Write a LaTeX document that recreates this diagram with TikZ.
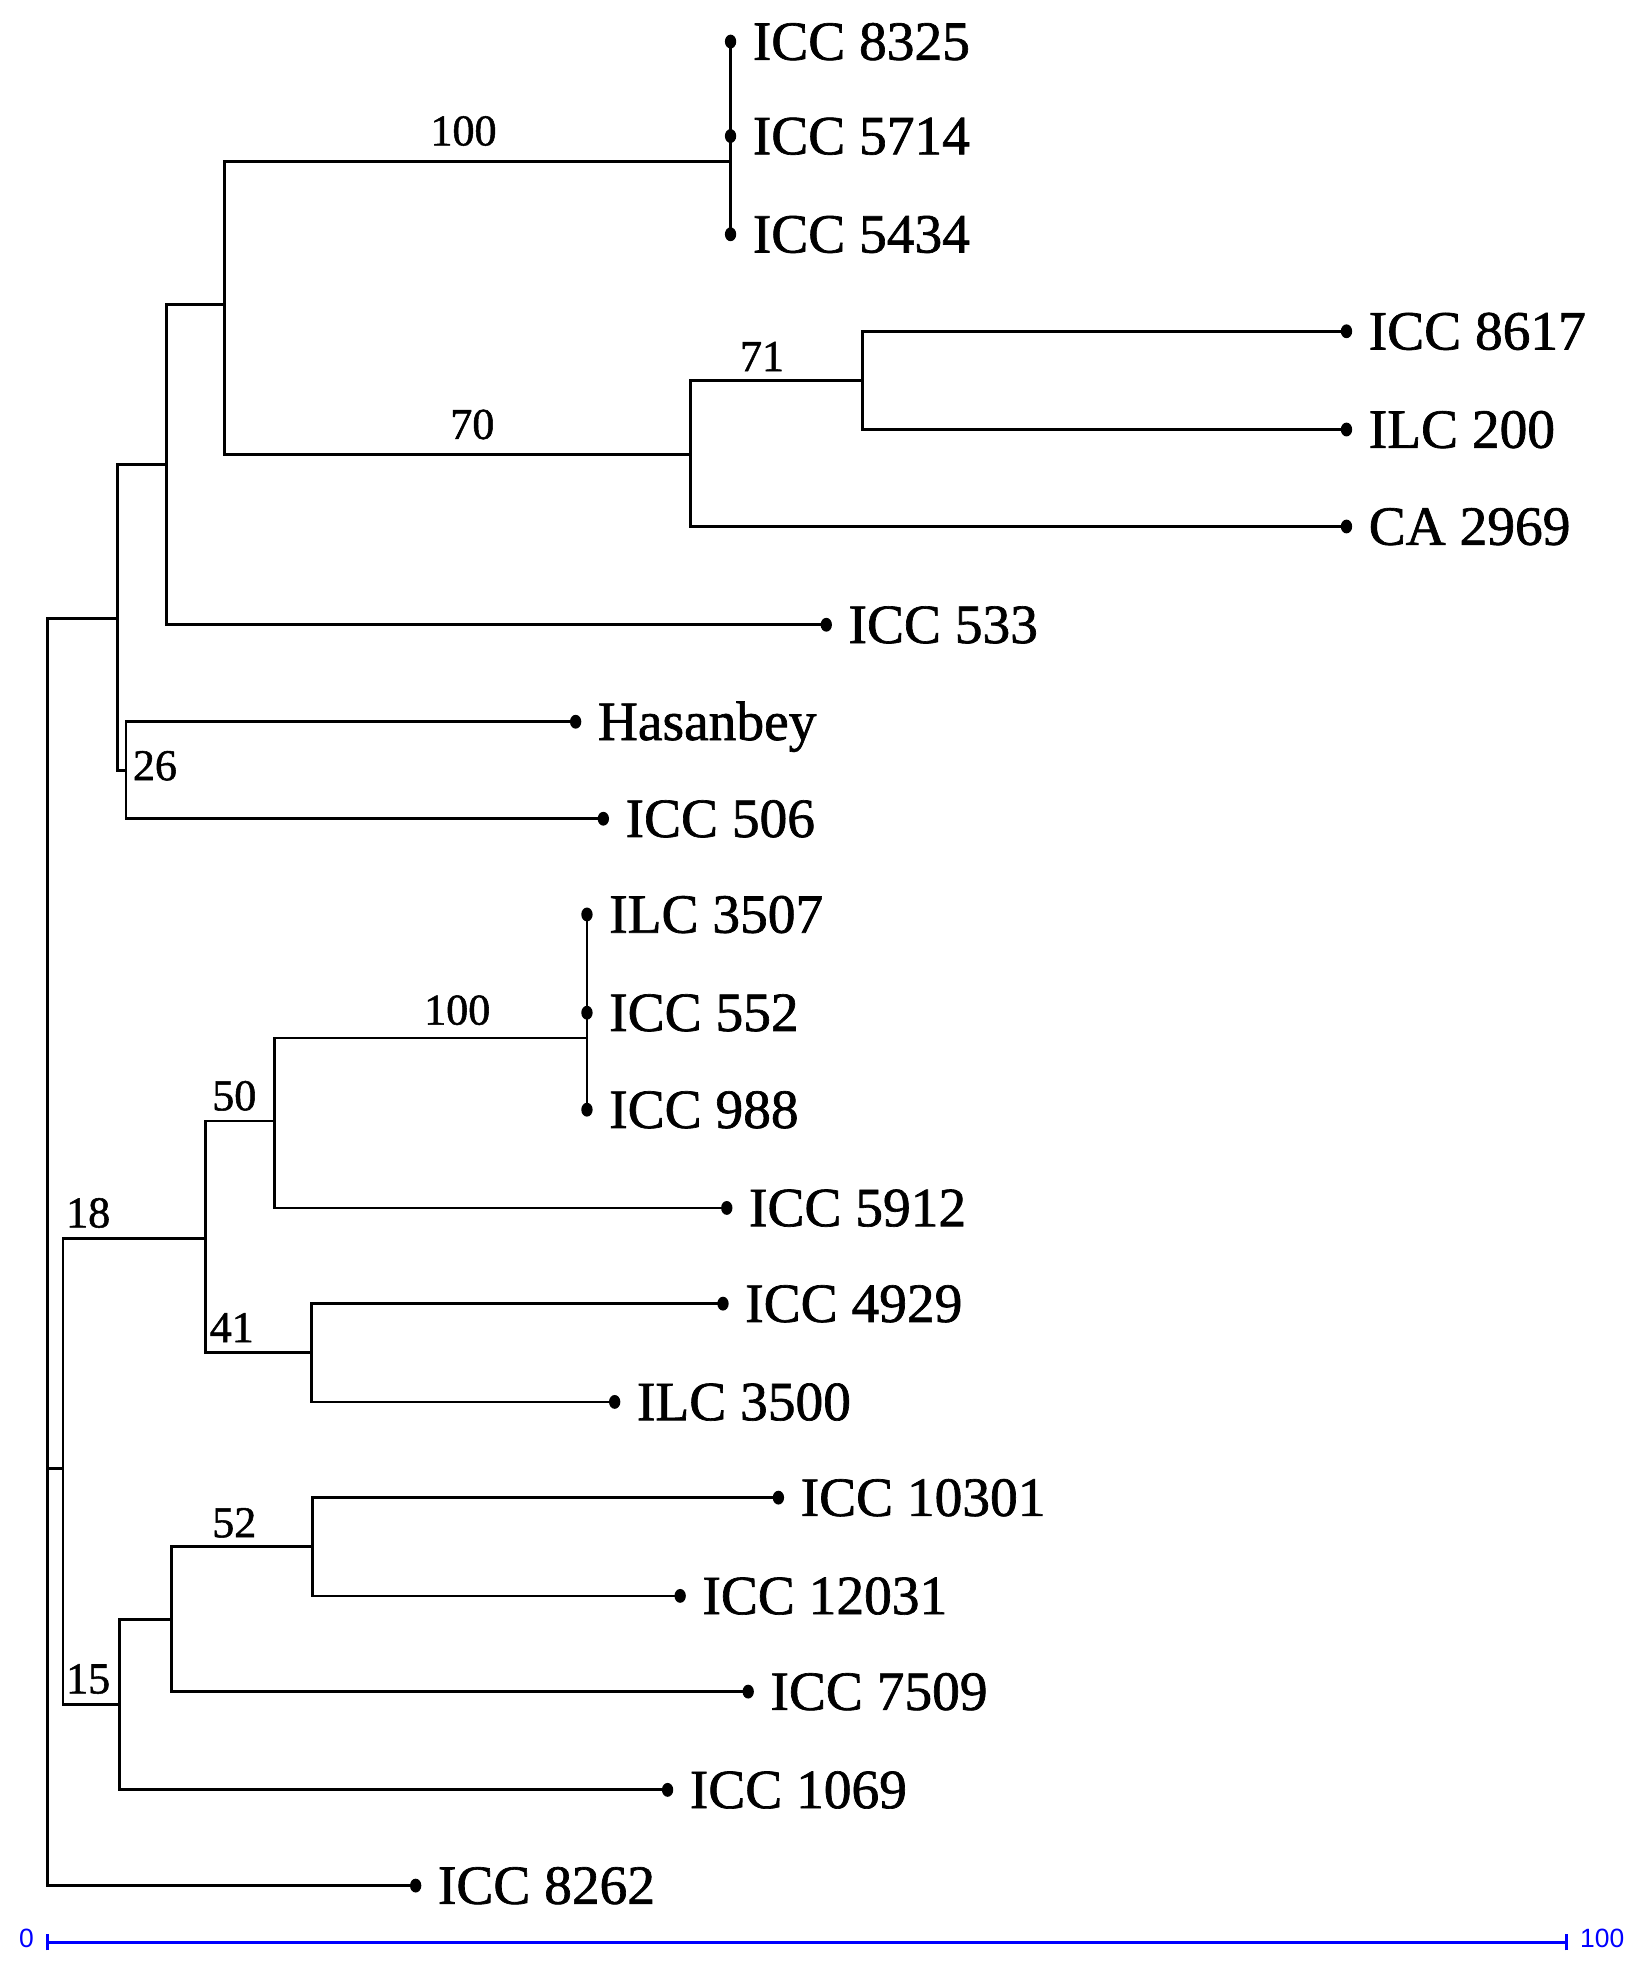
\documentclass[tikz,border=0pt]{standalone}
\usepackage{fontspec}
\usetikzlibrary{shapes.geometric}
\setmainfont{Liberation Serif}[FakeBold=1.5]
\newfontfamily\treefont{Liberation Serif}[AutoFakeBold=1.2]
\newfontfamily\barfont{Liberation Sans}
\begin{document}
\begin{tikzpicture}[x=1pt,y=-1pt,
  br/.style={line width=2.2pt, line cap=rect},
  dot/.style={ellipse, fill=black, inner sep=0pt, minimum width=9pt, minimum height=11pt},
  leaftxt/.style={anchor=base west, inner sep=0pt, font=\treefont\fontsize{44}{50}\selectfont\bfseries},
  boot/.style={inner sep=0pt, font=\treefont\fontsize{35}{40}\selectfont\bfseries},
  sbar/.style={draw=blue, line width=2.4pt},
  stxt/.style={inner sep=0pt, text=blue, font=\barfont\fontsize{21}{24}\selectfont}]
\useasboundingbox (0,0) rectangle (1306,1568);

% leaves (dots)
\foreach \n/\x/\y in {l1/580/33, l2/580/108, l3/580/186, l4/1069/263, l5/1069/341,
  l6/1069/418, l7/656/496, l8/457/573, l9/479/650, l10/466/726, l11/466/804,
  l12/466/881, l13/577/959, l14/574/1035, l15/488/1113, l16/618/1189,
  l17/540/1267, l18/594/1343, l19/530/1421, l20/330/1497}
  \coordinate (\n) at (\x,\y);

% internal nodes
\coordinate (r) at (38,1166);
\coordinate (A) at (93,491);
\coordinate (Nd) at (132,369);
\coordinate (Nc) at (178,242);
\coordinate (Na) at (580,128);
\coordinate (N70) at (548,361);
\coordinate (N71) at (685,302);
\coordinate (N26) at (100,612);
\coordinate (B) at (50,1166);
\coordinate (N18) at (163,983);
\coordinate (N50) at (218,890);
\coordinate (Nb) at (466,824);
\coordinate (N41) at (247,1074);
\coordinate (N15) at (95,1353);
\coordinate (Ne) at (136,1286);
\coordinate (N52) at (248,1228);

% branches
\draw[br] (r) |- (A);  \draw[br] (r) |- (B);  \draw[br] (r) |- (l20);
\draw[br] (A) |- (Nd); \draw[br] (A) |- (N26);
\draw[br] (Nd) |- (Nc); \draw[br] (Nd) |- (l7);
\draw[br] (Nc) |- (Na); \draw[br] (Nc) |- (N70);
\draw[br] (Na) |- (l1); \draw[br] (Na) |- (l2); \draw[br] (Na) |- (l3);
\draw[br] (N70) |- (N71); \draw[br] (N70) |- (l6);
\draw[br] (N71) |- (l4); \draw[br] (N71) |- (l5);
\draw[br] (N26) |- (l8); \draw[br] (N26) |- (l9);
\draw[br] (B) |- (N18); \draw[br] (B) |- (N15);
\draw[br] (N18) |- (N50); \draw[br] (N18) |- (N41);
\draw[br] (N50) |- (Nb); \draw[br] (N50) |- (l13);
\draw[br] (Nb) |- (l10); \draw[br] (Nb) |- (l11); \draw[br] (Nb) |- (l12);
\draw[br] (N41) |- (l14); \draw[br] (N41) |- (l15);
\draw[br] (N15) |- (Ne); \draw[br] (N15) |- (l19);
\draw[br] (Ne) |- (N52); \draw[br] (Ne) |- (l18);
\draw[br] (N52) |- (l16); \draw[br] (N52) |- (l17);

% dots and leaf labels
\foreach \n/\t in {l1/ICC 8325, l2/ICC 5714, l3/ICC 5434, l4/ICC 8617, l5/ILC 200,
  l6/CA 2969, l7/ICC 533, l8/Hasanbey, l9/ICC 506, l10/ILC 3507, l11/ICC 552,
  l12/ICC 988, l13/ICC 5912, l14/ICC 4929, l15/ILC 3500, l16/ICC 10301,
  l17/ICC 12031, l18/ICC 7509, l19/ICC 1069, l20/ICC 8262}
{
  \node[dot] (d\n) at (\n) {};
  \node[leaftxt] (t\n) at ([shift={(17.5,14.5)}]\n) {\t};
}

% bootstrap values
\node[boot] (b1) at (368,104) {100};
\node[boot] (b2) at (375,337) {70};
\node[boot] (b3) at (605,283) {71};
\node[boot] (b4) at (123,608) {26};
\node[boot] (b5) at (363,802) {100};
\node[boot] (b6) at (186,870) {50};
\node[boot] (b7) at (70,963) {18};
\node[boot] (b8) at (184,1054) {41};
\node[boot] (b9) at (186,1209) {52};
\node[boot] (b10) at (70,1333) {15};

% scale bar
\coordinate (s0) at (38,1542);
\coordinate (s1) at (1244,1542);
\draw[sbar] (s0) -- (s1);
\draw[sbar] ([yshift=-6.5]s0) -- ([yshift=6.5]s0);
\draw[sbar] ([yshift=-6.5]s1) -- ([yshift=6.5]s1);
\node[stxt] (z0) at (21,1539) {0};
\node[stxt] (z1) at (1272,1539) {100};
\end{tikzpicture}
\end{document}
